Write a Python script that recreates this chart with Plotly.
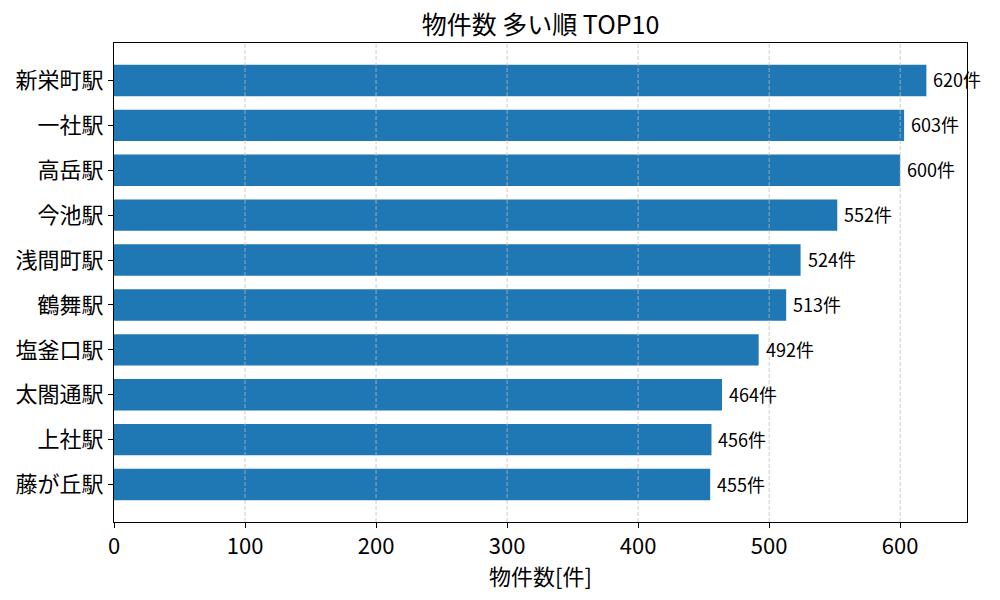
import plotly.graph_objects as go

stations = ["新栄町駅", "一社駅", "高岳駅", "今池駅", "浅間町駅", "鶴舞駅", "塩釜口駅", "太閤通駅", "上社駅", "藤が丘駅"]
counts = [620, 603, 600, 552, 524, 513, 492, 464, 456, 455]
x_ticks = [0, 100, 200, 300, 400, 500, 600]

FONT = "Noto Sans CJK JP"

fig = go.Figure()
fig.add_trace(go.Bar(
    x=counts, y=stations, orientation="h", width=0.7,
    marker=dict(color="#1f77b4", line=dict(width=0)),
    hoverinfo="skip",
))

for s, c in zip(stations, counts):
    fig.add_annotation(x=c, y=s, text=f"{c}件", showarrow=False,
                       xanchor="left", yanchor="middle", xshift=5, yshift=1,
                       font=dict(family=FONT, size=18, color="black"))

# dashed vertical grid drawn above the bars (as in the reference)
for t in x_ticks[1:]:
    fig.add_shape(type="line", x0=t, x1=t, xref="x", y0=0, y1=1, yref="paper",
                  layer="above", line=dict(color="rgba(190,190,190,0.75)", width=1, dash="4px,2px"))

# x axis title
fig.add_annotation(text="物件数[件]", x=0.5, xref="paper", y=-0.11, yref="paper",
                   xanchor="center", yanchor="middle", showarrow=False,
                   font=dict(family=FONT, size=22, color="black"))

fig.update_layout(
    width=1000, height=600,
    margin=dict(l=114, r=33, t=43, b=78),
    paper_bgcolor="white", plot_bgcolor="white",
    showlegend=False,
    font=dict(family=FONT, color="black"),
    title=dict(text="物件数 多い順 TOP10", x=0.5405, xanchor="center",
               y=0.958, yanchor="middle", font=dict(family=FONT, size=25, color="black")),
    xaxis=dict(range=[0, 651], tickvals=x_ticks, ticks="outside", ticklen=5, tickwidth=1,
               tickcolor="black", tickfont=dict(family=FONT, size=22),
               showline=True, linecolor="black", linewidth=1, mirror=True,
               showgrid=False, zeroline=False, layer="above traces"),
    yaxis=dict(type="category", categoryorder="array", categoryarray=stations,
               range=[9.835, -0.835], ticks="outside", ticklen=5, tickwidth=1,
               tickcolor="black", tickfont=dict(family=FONT, size=22),
               showline=True, linecolor="black", linewidth=1, mirror=True,
               showgrid=False, zeroline=False, layer="above traces"),
)

fig.write_html("out.html")
